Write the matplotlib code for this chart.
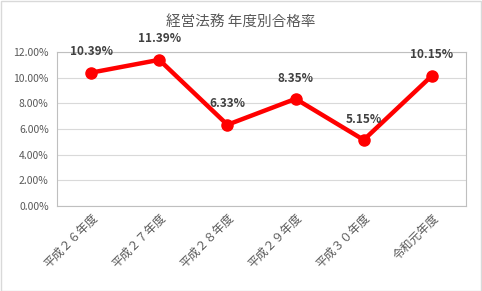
import matplotlib
matplotlib.use("Agg")
import matplotlib.pyplot as plt
from matplotlib.patches import Rectangle
from matplotlib.ticker import FuncFormatter

plt.rcParams["font.family"] = ["Noto Sans CJK JP", "DejaVu Sans"]

years = ["平成２６年度", "平成２７年度", "平成２８年度", "平成２９年度", "平成３０年度", "令和元年度"]
pass_rate = [10.39, 11.39, 6.33, 8.35, 5.15, 10.15]

W, H = 482, 291
fig = plt.figure(figsize=(W / 100, H / 100), dpi=100)
fig.patch.set_facecolor("white")
fig.patches.append(Rectangle((0.5 / W, 0.5 / H), 1 - 1.5 / W, 1 - 1.5 / H,
                             transform=fig.transFigure, fill=False,
                             edgecolor="#d9d9d9", linewidth=1))

ax = fig.add_axes([57 / W, 1 - 206 / H, (466 - 57) / W, (206 - 52) / H])
x = list(range(len(years)))
ax.plot(x, pass_rate, color="#ff0000", linewidth=3.2, marker="o",
        markersize=8, solid_capstyle="round", zorder=3)
for xi, v in zip(x, pass_rate):
    ax.annotate(f"{v:.2f}%", (xi, v), xytext=(0, 15), textcoords="offset points",
                ha="center", va="center", fontsize=8.5, fontweight="bold",
                color="#404040", zorder=4)

ax.set_xlim(-0.5, len(years) - 0.5)
ax.set_ylim(0, 12)
ax.set_yticks(range(0, 13, 2))
ax.yaxis.set_major_formatter(FuncFormatter(lambda v, _: f"{v:.2f}%"))
ax.grid(axis="y", color="#d9d9d9", linewidth=0.8)
ax.set_axisbelow(True)
for s in ax.spines.values():
    s.set_color("#bfbfbf")
    s.set_linewidth(0.8)
ax.tick_params(axis="y", length=0, labelsize=7.5, labelcolor="#595959", pad=6)
ax.tick_params(axis="x", length=0, labelsize=8.5, labelcolor="#595959", pad=4)
ax.set_xticks(x)
ax.set_xticklabels(years, rotation=45, ha="right", rotation_mode="anchor")

fig.text(0.5, 1 - 22 / H, "経営法務 年度別合格率", ha="center", va="center",
         fontsize=10.5, color="#595959")

fig.savefig("out.png", dpi=100, facecolor="white")
